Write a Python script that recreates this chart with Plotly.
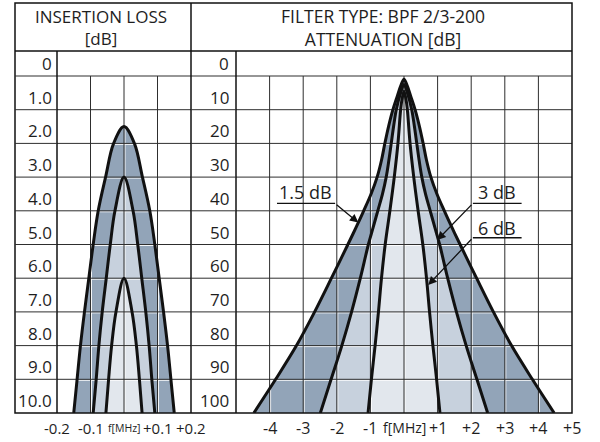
import plotly.graph_objects as go

# ---------------- data ----------------
il_levels = [0, 1, 2, 3, 4, 5, 6, 7, 8, 9, 10]
il_level_labels = ["0", "1.0", "2.0", "3.0", "4.0", "5.0", "6.0", "7.0", "8.0", "9.0", "10.0"]
il_freq_ticks = [-0.2, -0.1, 0.0, 0.1, 0.2]
il_freq_labels = ["-0.2", "-0.1", "f[MHz]", "+0.1", "+0.2"]

att_levels = [0, 10, 20, 30, 40, 50, 60, 70, 80, 90, 100]
att_level_labels = ["0", "10", "20", "30", "40", "50", "60", "70", "80", "90", "100"]
att_freq_ticks = [-4, -3, -2, -1, 0, 1, 2, 3, 4, 5]
att_freq_labels = ["-4", "-3", "-2", "-1", "f[MHz]", "+1", "+2", "+3", "+4", "+5"]

curve_names = ["1.5 dB", "3 dB", "6 dB"]

# insertion loss curves: level [dB] and half bandwidth [MHz]
il_db_15 = [1.5, 2, 3, 4, 5, 6, 7, 8, 9, 10]
il_hw_15 = [0, 0.031, 0.055, 0.077, 0.092, 0.105, 0.118, 0.13, 0.14, 0.15]
il_db_3 = [3, 4, 5, 6, 7, 8, 9, 10]
il_hw_3 = [0, 0.027, 0.041, 0.053, 0.065, 0.075, 0.083, 0.092]
il_db_6 = [6, 7, 8, 9, 10]
il_hw_6 = [0, 0.024, 0.037, 0.046, 0.054]

# attenuation curves: level [dB] and half bandwidth [MHz]
att_db_15 = [1.0, 3, 6, 10, 15, 20, 25, 30, 35, 40, 45, 50, 60, 70, 80, 90, 100]
att_hw_15 = [0, 0.1, 0.2, 0.33, 0.46, 0.57, 0.67, 0.8, 0.98, 1.2, 1.43, 1.67, 2.16, 2.66, 3.2, 3.82, 4.47]
att_db_3 = [2.5, 5, 10, 15, 20, 25, 30, 35, 40, 45, 50, 60, 70, 80, 90, 100]
att_hw_3 = [0, 0.1, 0.23, 0.31, 0.38, 0.45, 0.53, 0.64, 0.78, 0.92, 1.06, 1.3, 1.56, 1.85, 2.17, 2.49]
att_db_6 = [4.5, 7, 10, 20, 30, 40, 50, 60, 70, 80, 90, 100]
att_hw_6 = [0, 0.06, 0.1, 0.18, 0.29, 0.42, 0.56, 0.67, 0.76, 0.86, 0.97, 1.07]

# label annotations on the attenuation panel (text pos, underline, arrow tip)
lbl_text = ["1.5 dB", "3 dB", "6 dB"]
lbl_x = [-2.93, 2.76, 2.76]
lbl_y = [34.5, 34.5, 45.0]
lbl_line_x0 = [-3.78, 2.05, 2.05]
lbl_line_x1 = [-2.05, 3.5, 3.5]
lbl_line_y = [37.8, 37.8, 48.0]
lbl_tail_x = [-2.05, 2.05, 2.05]
lbl_tip_x = [-1.36, 0.99, 0.72]
lbl_tip_y = [43.5, 48.7, 62.0]

# ---------------- style / geometry ----------------
W, H = 600, 442
FONT = "Open Sans"
TXT = "#1e1e1e"
GRID = "#2e2e2e"
FILL_COLORS = ["#92a4b8", "#c7d1dd", "#e2e7ed"]
FRAME_L, FRAME_R, FRAME_T, FRAME_B = 15, 572, 3, 413
HEAD_B, ZERO_Y = 51, 76
L_LAB, MID, R_LAB = 57, 191, 236


def px(v):
    return v / W


def py(v):
    return 1 - v / H


def mirror(db, hw):
    xs = [-h for h in reversed(hw)] + list(hw[1:])
    ys = list(reversed(db)) + list(db[1:])
    return xs, ys


fig = go.Figure()


def add_panel(xa, ya, curves, xgrid, ygrid, xr, yr, pxw, pxh):
    # fills
    for (db, hw), col in zip(curves, FILL_COLORS):
        xs, ys = mirror(db, hw)
        fig.add_trace(go.Scatter(x=xs, y=ys, xaxis=xa, yaxis=ya, mode="lines", fill="toself",
                                 fillcolor=col, line=dict(width=0, shape="spline", smoothing=1, color=col),
                                 hoverinfo="skip", showlegend=False))
    # grid (white highlight + dark line)
    dx = (xr[1] - xr[0]) / pxw
    dy = (yr[0] - yr[1]) / pxh
    for off, col in ((1.0, "rgba(255,255,255,0.9)"), (0.0, GRID)):
        gx, gy = [], []
        for v in xgrid:
            gx += [v + off * dx, v + off * dx, None]
            gy += [yr[1], yr[0], None]
        for v in ygrid:
            gx += [xr[0], xr[1], None]
            gy += [v + off * dy, v + off * dy, None]
        fig.add_trace(go.Scatter(x=gx, y=gy, xaxis=xa, yaxis=ya, mode="lines",
                                 line=dict(width=1, color=col), hoverinfo="skip", showlegend=False))
    # outlines
    for db, hw in curves:
        xs, ys = mirror(db, hw)
        fig.add_trace(go.Scatter(x=xs, y=ys, xaxis=xa, yaxis=ya, mode="lines",
                                 line=dict(width=3, color="#111111", shape="spline", smoothing=1),
                                 hoverinfo="skip", showlegend=False))


add_panel("x", "y", [(il_db_15, il_hw_15), (il_db_3, il_hw_3), (il_db_6, il_hw_6)],
          il_freq_ticks[1:-1], il_levels[1:-1], [-0.2, 0.2], [10, 0], MID - L_LAB, FRAME_B - ZERO_Y)
add_panel("x2", "y2", [(att_db_15, att_hw_15), (att_db_3, att_hw_3), (att_db_6, att_hw_6)],
          att_freq_ticks[:-1], att_levels[1:-1], [-5, 5], [100, 0], FRAME_R - R_LAB, FRAME_B - ZERO_Y)

ax_common = dict(showgrid=False, zeroline=False, showticklabels=False, showline=False,
                 ticks="", fixedrange=True)
fig.update_layout(
    width=W, height=H, margin=dict(l=0, r=0, t=0, b=0),
    paper_bgcolor="white", plot_bgcolor="white", showlegend=False,
    xaxis=dict(domain=[px(L_LAB), px(MID)], range=[-0.2, 0.2], anchor="y", **ax_common),
    yaxis=dict(domain=[py(FRAME_B), py(ZERO_Y)], range=[10, 0], anchor="x", **ax_common),
    xaxis2=dict(domain=[px(R_LAB), px(FRAME_R)], range=[-5, 5], anchor="y2", **ax_common),
    yaxis2=dict(domain=[py(FRAME_B), py(ZERO_Y)], range=[100, 0], anchor="x2", **ax_common),
    font=dict(family=FONT, color=TXT),
)

shapes = []
bw = dict(color="#111111", width=1.5)


def pline(x0, y0, x1, y1, line=bw):
    shapes.append(dict(type="line", xref="paper", yref="paper", x0=px(x0), y0=py(y0),
                       x1=px(x1), y1=py(y1), line=line, layer="above"))


shapes.append(dict(type="rect", xref="paper", yref="paper", x0=px(FRAME_L), y0=py(FRAME_B),
                   x1=px(FRAME_R), y1=py(FRAME_T), line=bw, layer="above"))
pline(FRAME_L, HEAD_B, FRAME_R, HEAD_B)
pline(FRAME_L, ZERO_Y, FRAME_R, ZERO_Y, dict(color=GRID, width=1.2))
pline(MID, FRAME_T, MID, FRAME_B)
pline(L_LAB, HEAD_B, L_LAB, FRAME_B)
pline(R_LAB, HEAD_B, R_LAB, FRAME_B)
# horizontal grid in the label columns
for v in il_levels[1:-1]:
    shapes.append(dict(type="line", xref="paper", yref="y", x0=px(FRAME_L), x1=px(L_LAB),
                       y0=v, y1=v, line=dict(color=GRID, width=1)))
for v in att_levels[1:-1]:
    shapes.append(dict(type="line", xref="paper", yref="y2", x0=px(MID), x1=px(R_LAB),
                       y0=v, y1=v, line=dict(color=GRID, width=1)))
# underlines for curve labels
for x0, x1, yv in zip(lbl_line_x0, lbl_line_x1, lbl_line_y):
    shapes.append(dict(type="line", xref="x2", yref="y2", x0=x0, x1=x1, y0=yv, y1=yv,
                       line=dict(color="#111111", width=1.3), layer="above"))

ann = []
FS = 17
# headers
ann.append(dict(text="INSERTION LOSS<br>[dB]", xref="paper", yref="paper", x=px(101), y=py(27.5),
                xanchor="center", yanchor="middle",
                showarrow=False, font=dict(size=17, family=FONT, color=TXT)))
ann.append(dict(text="FILTER TYPE: BPF 2/3-200<br>ATTENUATION [dB]", xref="paper", yref="paper",
                x=px(383), y=py(27.5), xanchor="center", yanchor="middle",
                showarrow=False, font=dict(size=17.5, family=FONT, color=TXT)))
# y tick labels
for v, t in zip(il_levels, il_level_labels):
    ann.append(dict(text=t, xref="paper", yref="y", x=px(53), y=v, xanchor="right", yanchor="bottom",
                    showarrow=False, font=dict(size=FS, family=FONT, color=TXT), borderpad=0))
for v, t in zip(att_levels, att_level_labels):
    ann.append(dict(text=t, xref="paper", yref="y2", x=px(230), y=v, xanchor="right", yanchor="bottom",
                    showarrow=False, font=dict(size=FS, family=FONT, color=TXT), borderpad=0))
# x tick labels
for v, t in zip(il_freq_ticks, il_freq_labels):
    ann.append(dict(text=t, xref="x", yref="paper", x=v, y=py(427.5), xanchor="center", yanchor="middle",
                    showarrow=False, borderpad=0,
                    font=dict(size=10.5 if t.startswith("f") else 15, family=FONT, color=TXT)))
for v, t in zip(att_freq_ticks, att_freq_labels):
    ann.append(dict(text=t, xref="x2", yref="paper", x=v, y=py(427.5), xanchor="center", yanchor="middle",
                    showarrow=False, borderpad=0,
                    font=dict(size=14 if t.startswith("f") else 16, family=FONT, color=TXT)))
# curve labels with arrows
for t, x, y in zip(lbl_text, lbl_x, lbl_y):
    ann.append(dict(text=t, xref="x2", yref="y2", x=x, y=y, showarrow=False,
                    font=dict(size=18, family=FONT, color=TXT)))
for tx, ty, hx, hy in zip(lbl_tail_x, lbl_line_y, lbl_tip_x, lbl_tip_y):
    ann.append(dict(text="", xref="x2", yref="y2", x=hx, y=hy, axref="x2", ayref="y2", ax=tx, ay=ty,
                    showarrow=True, arrowhead=2, arrowsize=1.3, arrowwidth=1.3, arrowcolor="#111111",
                    standoff=0, startstandoff=0))

fig.update_layout(shapes=shapes, annotations=ann)
fig.write_html("out.html")
